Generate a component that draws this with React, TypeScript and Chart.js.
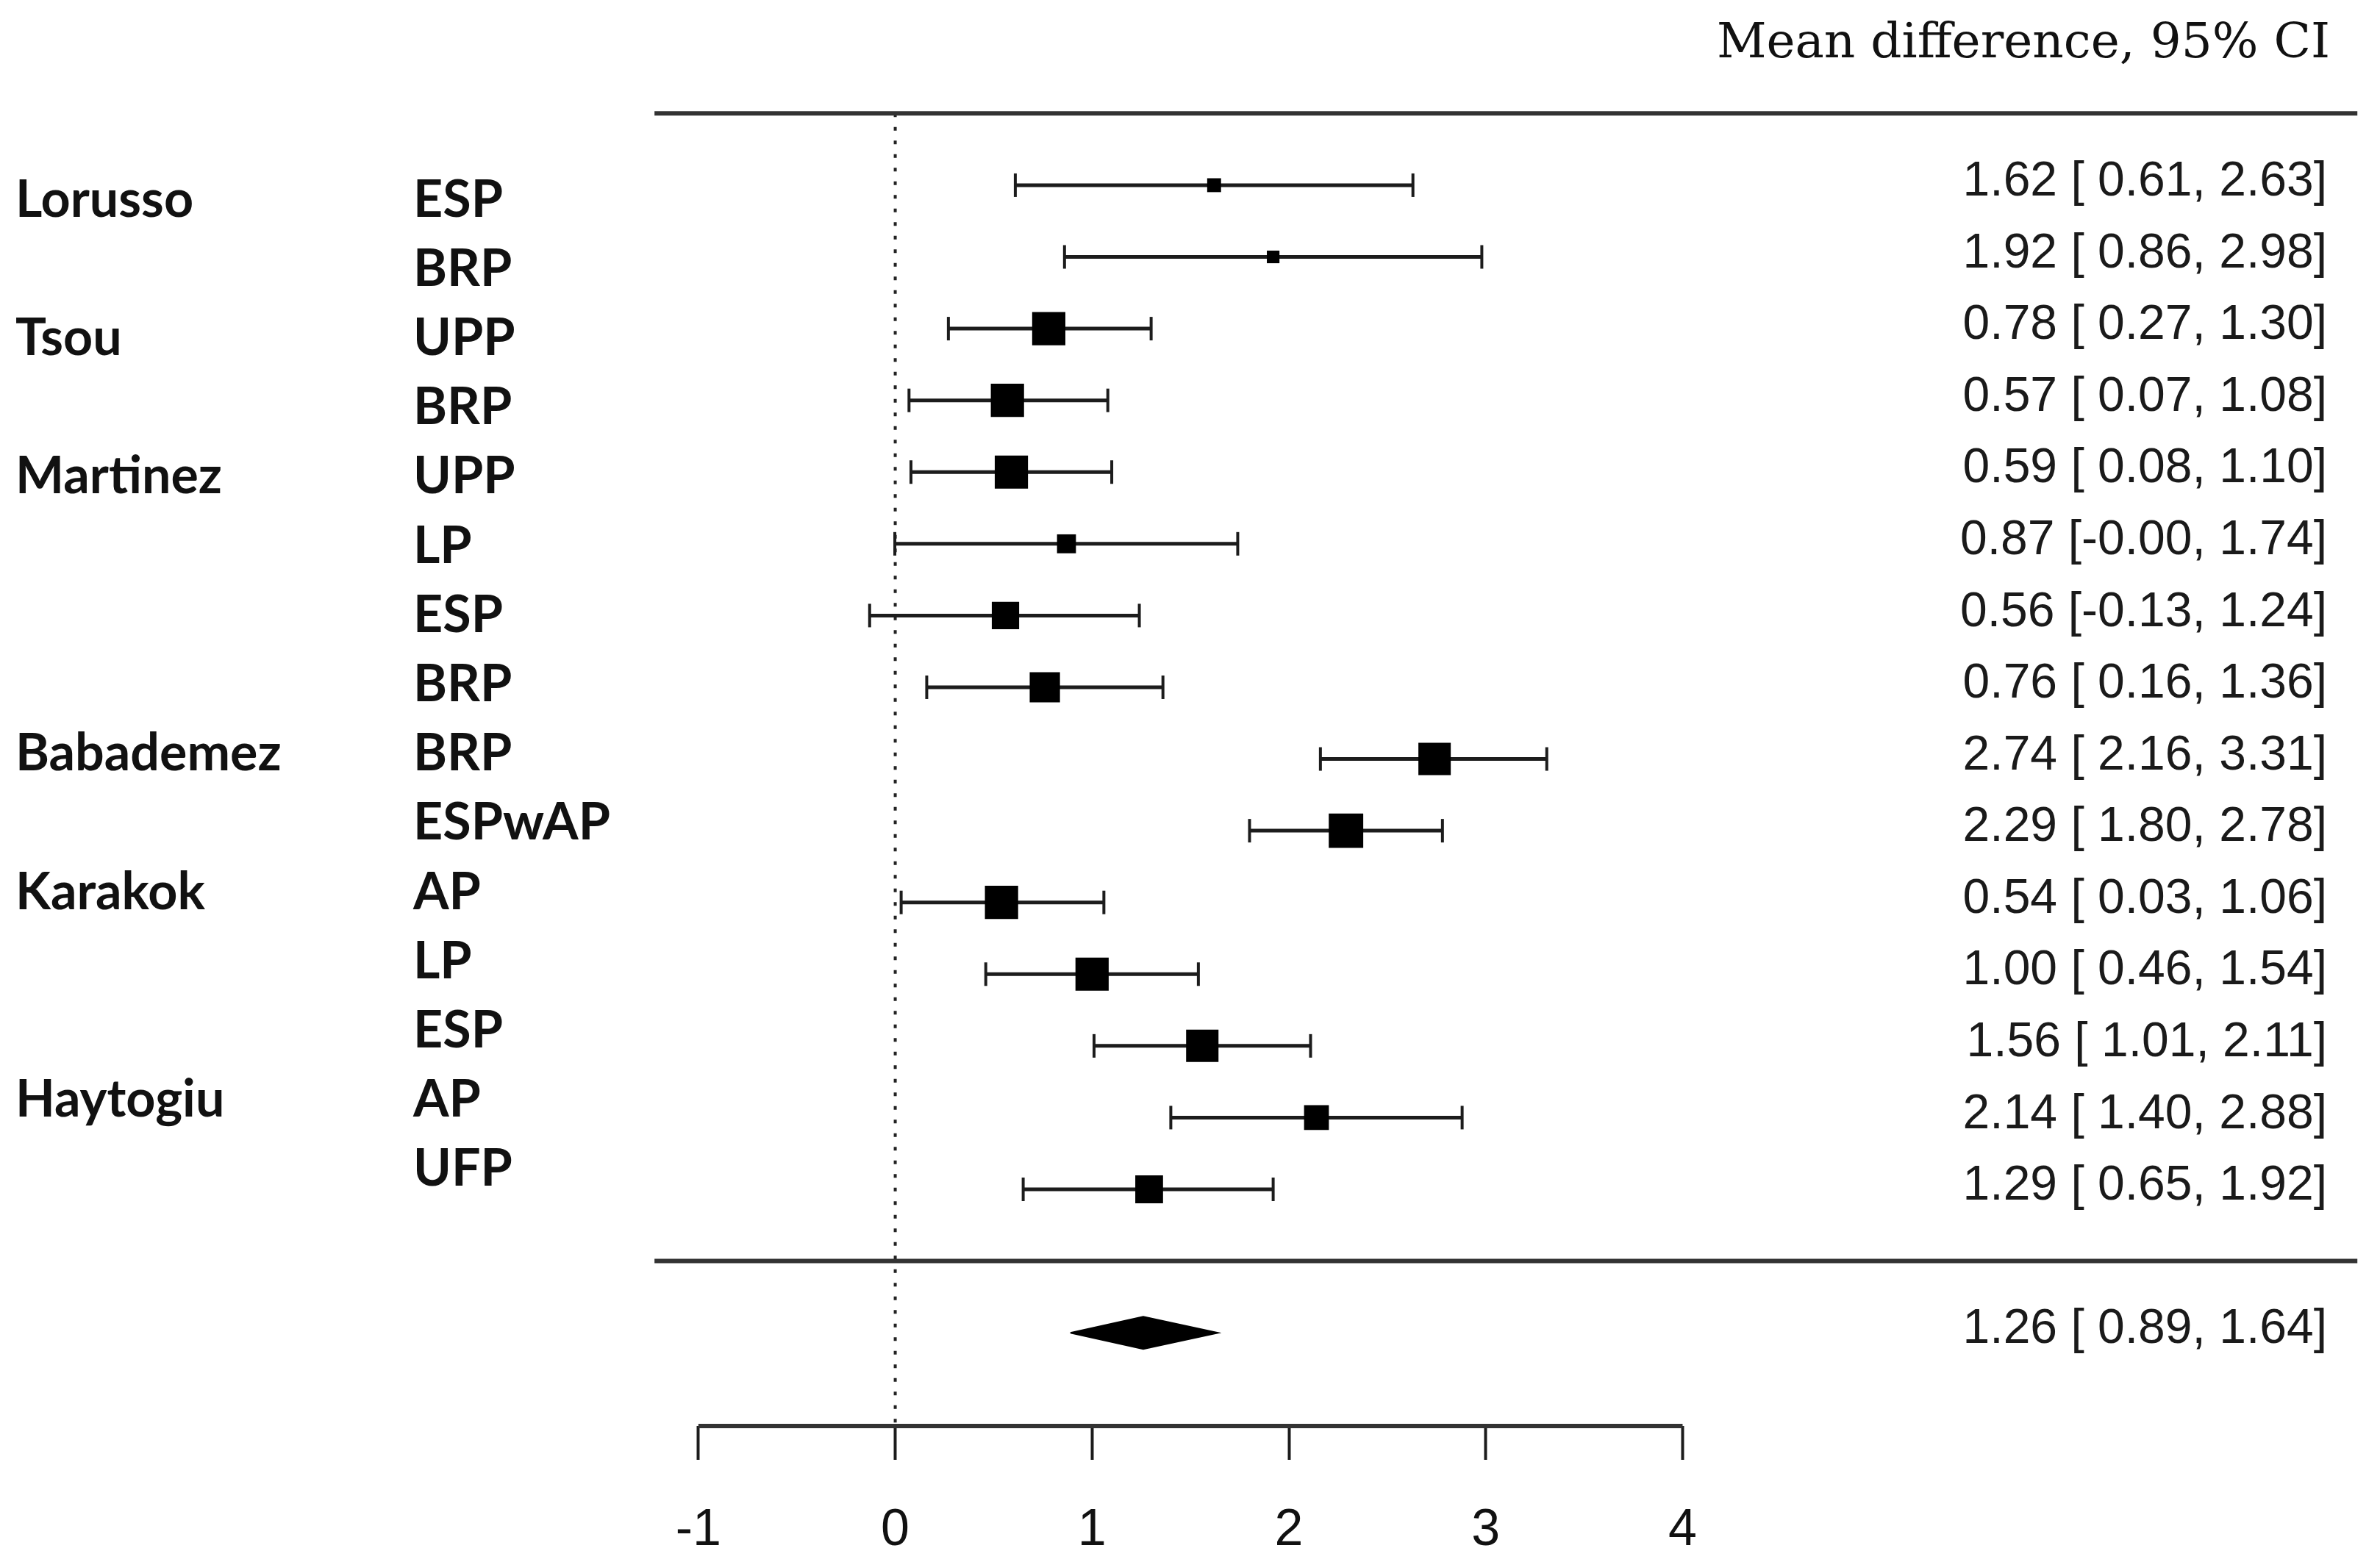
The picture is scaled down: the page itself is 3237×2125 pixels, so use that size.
import React, { useEffect, useRef } from "react";
import { Chart, registerables } from "chart.js";

Chart.register(...registerables);

// ---------- data ----------
const studies = ["Lorusso", "", "Tsou", "", "Martinez", "", "", "", "Babademez", "", "Karakok", "", "", "Haytogiu", ""];
const treatments = ["ESP", "BRP", "UPP", "BRP", "UPP", "LP", "ESP", "BRP", "BRP", "ESPwAP", "AP", "LP", "ESP", "AP", "UFP"];
const estimates = [1.62, 1.92, 0.78, 0.57, 0.59, 0.87, 0.56, 0.76, 2.74, 2.29, 0.54, 1.0, 1.56, 2.14, 1.29];
const ciLower = [0.61, 0.86, 0.27, 0.07, 0.08, -0.002, -0.13, 0.16, 2.16, 1.8, 0.03, 0.46, 1.01, 1.4, 0.65];
const ciUpper = [2.63, 2.98, 1.3, 1.08, 1.1, 1.74, 1.24, 1.36, 3.31, 2.78, 1.06, 1.54, 2.11, 2.88, 1.92];
const weights = [3.3, 3.0, 7.9, 7.9, 7.9, 4.5, 6.5, 7.2, 7.7, 8.2, 7.9, 7.9, 7.7, 5.9, 6.6];
const pooledEstimate = 1.26;
const pooledLower = 0.89;
const pooledUpper = 1.64;
const tickValues = [-1, 0, 1, 2, 3, 4];
const columnTitle = "Mean difference, 95% CI";

// ---------- layout ----------
const W = 3237;
const H = 2125;
const X_MIN = -4.548;
const X_MAX = 7.543;
const Y_MIN = -1.582;
const Y_MAX = 18.3;
const SEP_LEFT = -1.223;
const SEP_RIGHT = 7.428;
const POOLED_ROW = estimates.length + 2;
const SEP_ROW = estimates.length + 1;
const BOX_PX_PER_WEIGHT = 5.72;
const DIAMOND_HALF = 0.225;
const LINE_COLOR = "#1c1c1c";

const ciText = (e: number, l: number, h: number) =>
  `${e.toFixed(2)} [${l < 0 ? "" : " "}${l.toFixed(2)}, ${h.toFixed(2)}]`;

const textPlugin = {
  id: "forestText",
  afterDatasetsDraw(chart: any) {
    const { ctx } = chart;
    const y = chart.scales.y;
    ctx.save();
    ctx.fillStyle = "#111";
    // column title
    ctx.font = '66px "DejaVu Serif"';
    ctx.textAlign = "right";
    ctx.textBaseline = "alphabetic";
    ctx.fillText(columnTitle, 3169, 78);
    // left labels
    ctx.font = 'bold 70px Lato';
    ctx.textAlign = "left";
    ctx.textBaseline = "middle";
    treatments.forEach((t, i) => {
      const cy = 272 + 94.2 * i;
      if (studies[i]) ctx.fillText(studies[i], 21, cy);
      ctx.fillText(t, 562, cy);
    });
    // right column
    ctx.font = '66px "Liberation Sans"';
    ctx.fillStyle = "#1a1a1a";
    ctx.textAlign = "right";
    estimates.forEach((e, i) => {
      ctx.fillText(ciText(e, ciLower[i], ciUpper[i]), 3165, y.getPixelForValue(i + 1) - 4);
    });
    ctx.fillText(ciText(pooledEstimate, pooledLower, pooledUpper), 3165, y.getPixelForValue(POOLED_ROW) - 4);
    ctx.restore();
  },
};

export default function App() {
  const ref = useRef<HTMLCanvasElement | null>(null);

  useEffect(() => {
    if (!ref.current) return;
    const rows = estimates.map((_, i) => i + 1);

    const ciLines = estimates.map((_, i) => ({
      type: "line" as const,
      data: [
        { x: ciLower[i], y: rows[i] },
        { x: ciUpper[i], y: rows[i] },
      ],
      borderColor: LINE_COLOR,
      borderWidth: 5,
      pointRadius: 0,
      fill: false,
      order: 3,
    }));

    const datasets: any[] = [
      {
        type: "scatter",
        data: estimates.map((e, i) => ({ x: e, y: rows[i] })),
        pointStyle: "rect",
        pointRadius: weights.map((w) => (w * BOX_PX_PER_WEIGHT) / Math.SQRT2),
        pointBackgroundColor: "#000",
        pointBorderColor: "#000",
        pointBorderWidth: 0,
        showLine: false,
        order: 0,
      },
      {
        type: "scatter",
        data: [
          ...ciLower.map((l, i) => ({ x: l, y: rows[i] })),
          ...ciUpper.map((h, i) => ({ x: h, y: rows[i] })),
        ],
        pointStyle: "line",
        pointRotation: 90,
        pointRadius: 16,
        pointBorderWidth: 4,
        pointBorderColor: LINE_COLOR,
        showLine: false,
        order: 1,
      },
      ...ciLines,
      {
        type: "line",
        data: [
          { x: pooledLower, y: POOLED_ROW },
          { x: pooledEstimate, y: POOLED_ROW - DIAMOND_HALF },
          { x: pooledUpper, y: POOLED_ROW },
          { x: pooledEstimate, y: POOLED_ROW + DIAMOND_HALF },
          { x: pooledLower, y: POOLED_ROW },
        ],
        fill: "shape",
        backgroundColor: "#000",
        borderColor: "#000",
        borderWidth: 2,
        pointRadius: 0,
        tension: 0,
        order: 1,
      },
      {
        type: "line",
        data: [
          { x: SEP_LEFT, y: 0 },
          { x: SEP_RIGHT, y: 0 },
        ],
        borderColor: "#333",
        borderWidth: 6,
        pointRadius: 0,
        fill: false,
        order: 4,
      },
      {
        type: "line",
        data: [
          { x: SEP_LEFT, y: SEP_ROW },
          { x: SEP_RIGHT, y: SEP_ROW },
        ],
        borderColor: "#333",
        borderWidth: 6,
        pointRadius: 0,
        fill: false,
        order: 4,
      },
      {
        type: "line",
        data: [
          { x: 0, y: 0 },
          { x: 0, y: Y_MAX },
        ],
        borderColor: "#222",
        borderWidth: 4,
        borderDash: [5, 13.5],
        pointRadius: 0,
        fill: false,
        order: 5,
      },
      {
        type: "line",
        data: [
          { x: tickValues[0], y: Y_MAX },
          { x: tickValues[tickValues.length - 1], y: Y_MAX },
        ],
        borderColor: "#333",
        borderWidth: 6,
        pointRadius: 0,
        fill: false,
        clip: false,
        order: 4,
      },
    ];

    const chart = new Chart(ref.current, {
      type: "scatter",
      data: { datasets },
      options: {
        animation: false,
        responsive: false,
        events: [],
        layout: { padding: 0, autoPadding: false },
        plugins: {
          legend: { display: false },
          tooltip: { enabled: false },
        },
        scales: {
          x: {
            type: "linear",
            min: X_MIN,
            max: X_MAX,
            afterBuildTicks: (scale: any) => {
              scale.ticks = tickValues.map((v) => ({ value: v }));
            },
            afterFit: (scale: any) => {
              scale.height = H - 1940;
            },
            border: { display: false },
            grid: {
              display: true,
              drawOnChartArea: false,
              drawTicks: true,
              tickLength: 46,
              tickWidth: 4,
              tickColor: LINE_COLOR,
            },
            ticks: {
              autoSkip: false,
              maxRotation: 0,
              padding: 55,
              color: "#111",
              font: { family: '"Liberation Sans Narrow", "Liberation Sans", Arial', size: 70 },
              callback: (v: any) => String(v),
            },
          },
          y: {
            type: "linear",
            display: false,
            reverse: true,
            min: Y_MIN,
            max: Y_MAX,
          },
        },
      } as any,
      plugins: [textPlugin],
    });

    const fontsReady = (document as any).fonts;
    if (fontsReady && fontsReady.load) {
      Promise.all([
        fontsReady.load('bold 70px Lato'),
        fontsReady.load('66px "DejaVu Serif"'),
        fontsReady.load('66px "Liberation Sans"'),
        fontsReady.load('70px "Liberation Sans Narrow"'),
      ])
        .then(() => chart.update())
        .catch(() => {});
    }

    return () => chart.destroy();
  }, []);

  return (
    <div style={{ position: "absolute", left: 0, top: 0, width: W, height: H, background: "#fff" }}>
      <canvas ref={ref} width={W} height={H} style={{ display: "block" }} />
    </div>
  );
}
